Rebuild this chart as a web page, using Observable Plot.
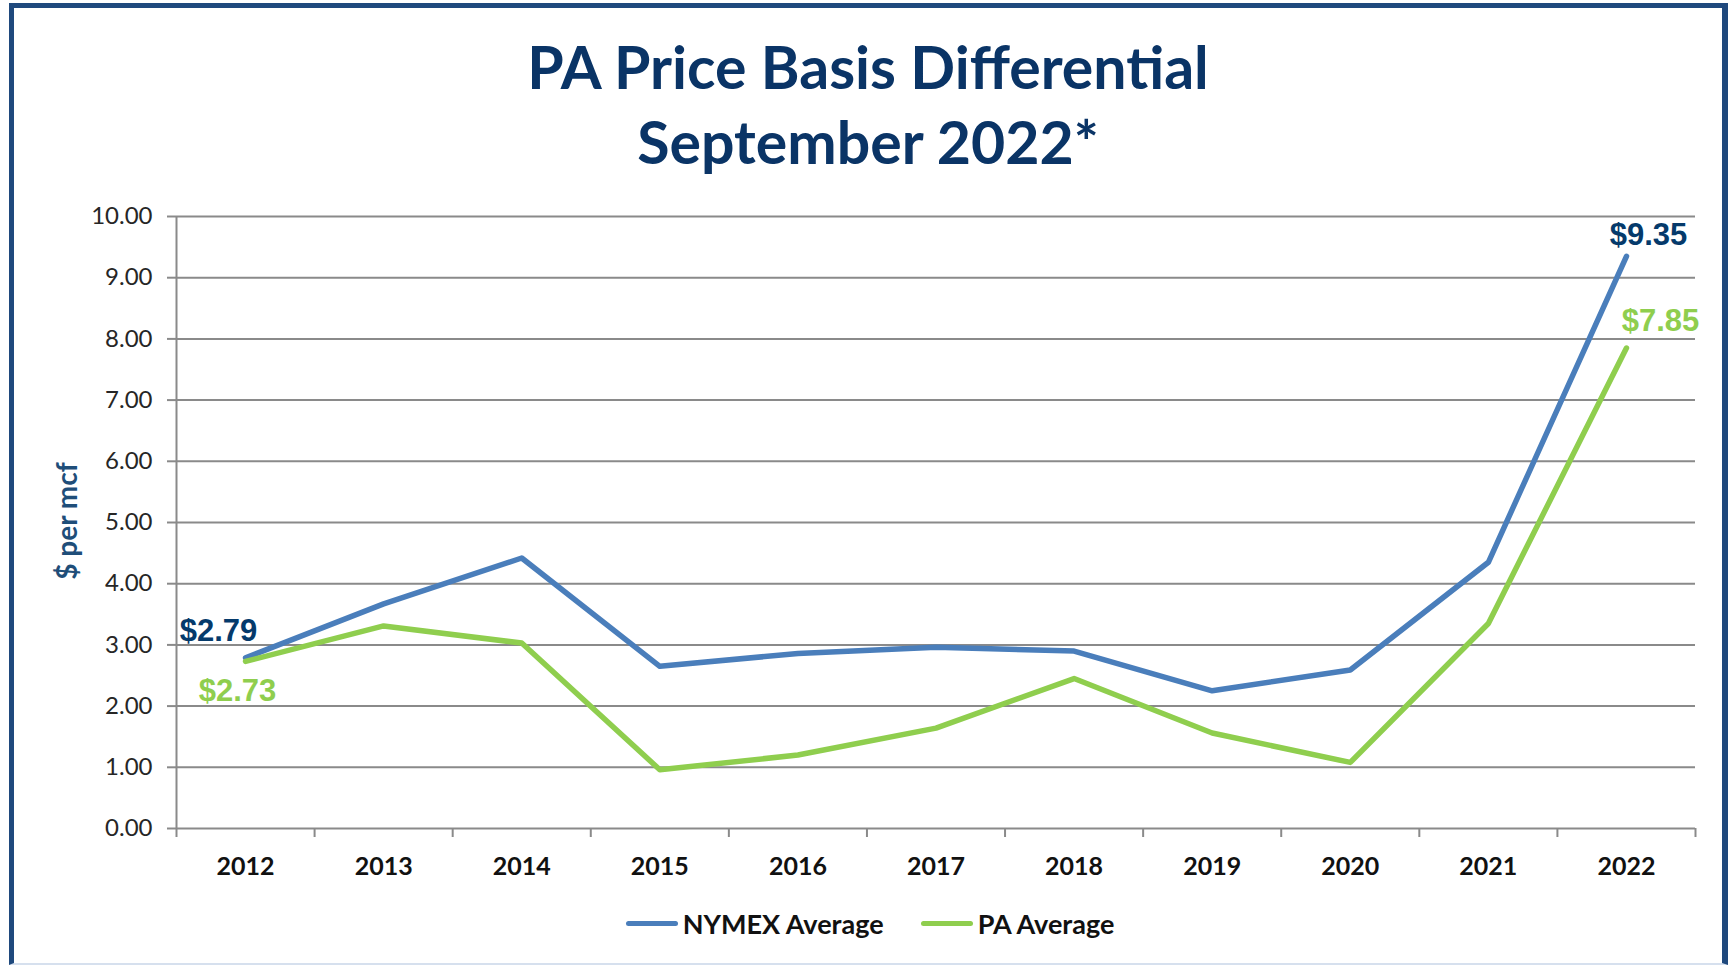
<!DOCTYPE html>
<html><head><meta charset="utf-8">
<script src="https://cdn.jsdelivr.net/npm/d3@7"></script>
<script src="https://cdn.jsdelivr.net/npm/@observablehq/plot@0.6"></script>
<style>
html,body{margin:0;padding:0;background:#fff;}
#wrap{position:relative;width:1728px;height:965px;overflow:hidden;background:#fff;font-family:Lato,"Open Sans",sans-serif;}
#frame{position:absolute;left:9px;top:3px;width:1719px;height:962px;border-left:5px solid #1f497d;border-top:5px solid #1f497d;border-right:6px solid #1f497d;border-bottom:2px solid #d6e0ee;box-sizing:border-box;pointer-events:none;z-index:5;}
#title{position:absolute;left:14px;width:1708px;top:29px;text-align:center;color:#0a3466;font-weight:700;font-size:59px;line-height:75px;}
#ylabel{position:absolute;left:66px;top:521px;transform:translate(-50%,-50%) rotate(-90deg);white-space:nowrap;color:#1f4e79;font-weight:700;font-size:28px;}
#chart{position:absolute;left:0;top:190px;}
#legend{position:absolute;left:6px;top:907px;width:1728px;display:flex;justify-content:center;gap:37px;font-weight:700;font-size:27px;color:#111;}
.item{display:flex;align-items:center;}
.sw{width:52px;height:5px;border-radius:3px;margin-right:5px;}
</style>
</head><body>
<div id="wrap">
  <div id="frame"></div>
  <div id="title">PA Price Basis Differential<br>September 2022*</div>
  <div id="ylabel">$ per mcf</div>
  <div id="chart"></div>
  <div id="legend"></div>
</div>
<script>
const years = [2012, 2013, 2014, 2015, 2016, 2017, 2018, 2019, 2020, 2021, 2022];
const nymex = [2.79, 3.67, 4.42, 2.65, 2.86, 2.96, 2.90, 2.25, 2.59, 4.35, 9.35];
const paAvg = [2.73, 3.31, 3.03, 0.96, 1.20, 1.64, 2.45, 1.56, 1.08, 3.35, 7.85];
const seriesNames = ["NYMEX Average", "PA Average"];
const seriesColors = ["#4a7ebb", "#8fce4e"];
const labelColors = ["#053a6b", "#8fce4e"];
const yTicks = [0, 1, 2, 3, 4, 5, 6, 7, 8, 9, 10];

const rows = [];
years.forEach((yr, i) => {
  rows.push({year: yr, value: nymex[i], series: seriesNames[0]});
  rows.push({year: yr, value: paAvg[i], series: seriesNames[1]});
});
const xDomain = [years[0] - 0.5, years[years.length - 1] + 0.5];
const bounds = [...years.map(y => y - 0.5), years[years.length - 1] + 0.5];
const fmt = v => "$" + v.toFixed(2);
const first = i => ({year: years[0], value: [nymex, paAvg][i][0]});
const last = i => ({year: years[years.length-1], value: [nymex, paAvg][i][years.length-1]});
const labelFont = {fontFamily: "Liberation Sans, Arial, sans-serif", fontWeight: "bold", fontSize: 31};

const chart = Plot.plot({
  width: 1728,
  height: 705,
  marginLeft: 176,
  marginRight: 33,
  marginTop: 26,
  marginBottom: 67,
  style: {fontFamily: "Lato, 'Open Sans', sans-serif", background: "transparent", overflow: "visible"},
  x: {domain: xDomain, axis: null},
  y: {domain: [0, 10], axis: null},
  color: {domain: seriesNames, range: seriesColors},
  marks: [
    Plot.ruleY(yTicks, {stroke: "#8a8a8a", strokeWidth: 2}),
    Plot.ruleX([xDomain[0]], {stroke: "#8a8a8a", strokeWidth: 2}),
    Plot.axisY({ticks: yTicks, tickSize: 9, tickPadding: 15, tickFormat: d => d.toFixed(2),
      fontSize: 24, fill: "#262626", stroke: "#8a8a8a", strokeWidth: 2, label: null}),
    Plot.axisX({ticks: bounds, tickSize: 9, tickFormat: () => "", stroke: "#8a8a8a", strokeWidth: 2, label: null}),
    Plot.axisX({ticks: years, tickSize: 0, tickPadding: 29, tickFormat: d => String(d),
      fontSize: 25, fontWeight: "bold", fill: "#111", label: null}),
    Plot.line(rows, {x: "year", y: "value", z: "series", stroke: "series", strokeWidth: 5.5, strokeLinejoin: "round", strokeLinecap: "round"}),
    Plot.text([first(0)], {x: "year", y: "value", text: d => fmt(d.value), fill: labelColors[0], dx: -27, dy: -27, ...labelFont}),
    Plot.text([first(1)], {x: "year", y: "value", text: d => fmt(d.value), fill: labelColors[1], dx: -8, dy: 30, ...labelFont}),
    Plot.text([last(0)], {x: "year", y: "value", text: d => fmt(d.value), fill: labelColors[0], dx: 22, dy: -21, ...labelFont}),
    Plot.text([last(1)], {x: "year", y: "value", text: d => fmt(d.value), fill: labelColors[1], dx: 34, dy: -27, ...labelFont})
  ]
});
document.getElementById("chart").appendChild(chart);

const legend = document.getElementById("legend");
seriesNames.forEach((name, i) => {
  const item = document.createElement("div");
  item.className = "item";
  const sw = document.createElement("div");
  sw.className = "sw";
  sw.style.background = seriesColors[i];
  const t = document.createElement("span");
  t.textContent = name;
  item.appendChild(sw);
  item.appendChild(t);
  legend.appendChild(item);
});
</script>
</body></html>
